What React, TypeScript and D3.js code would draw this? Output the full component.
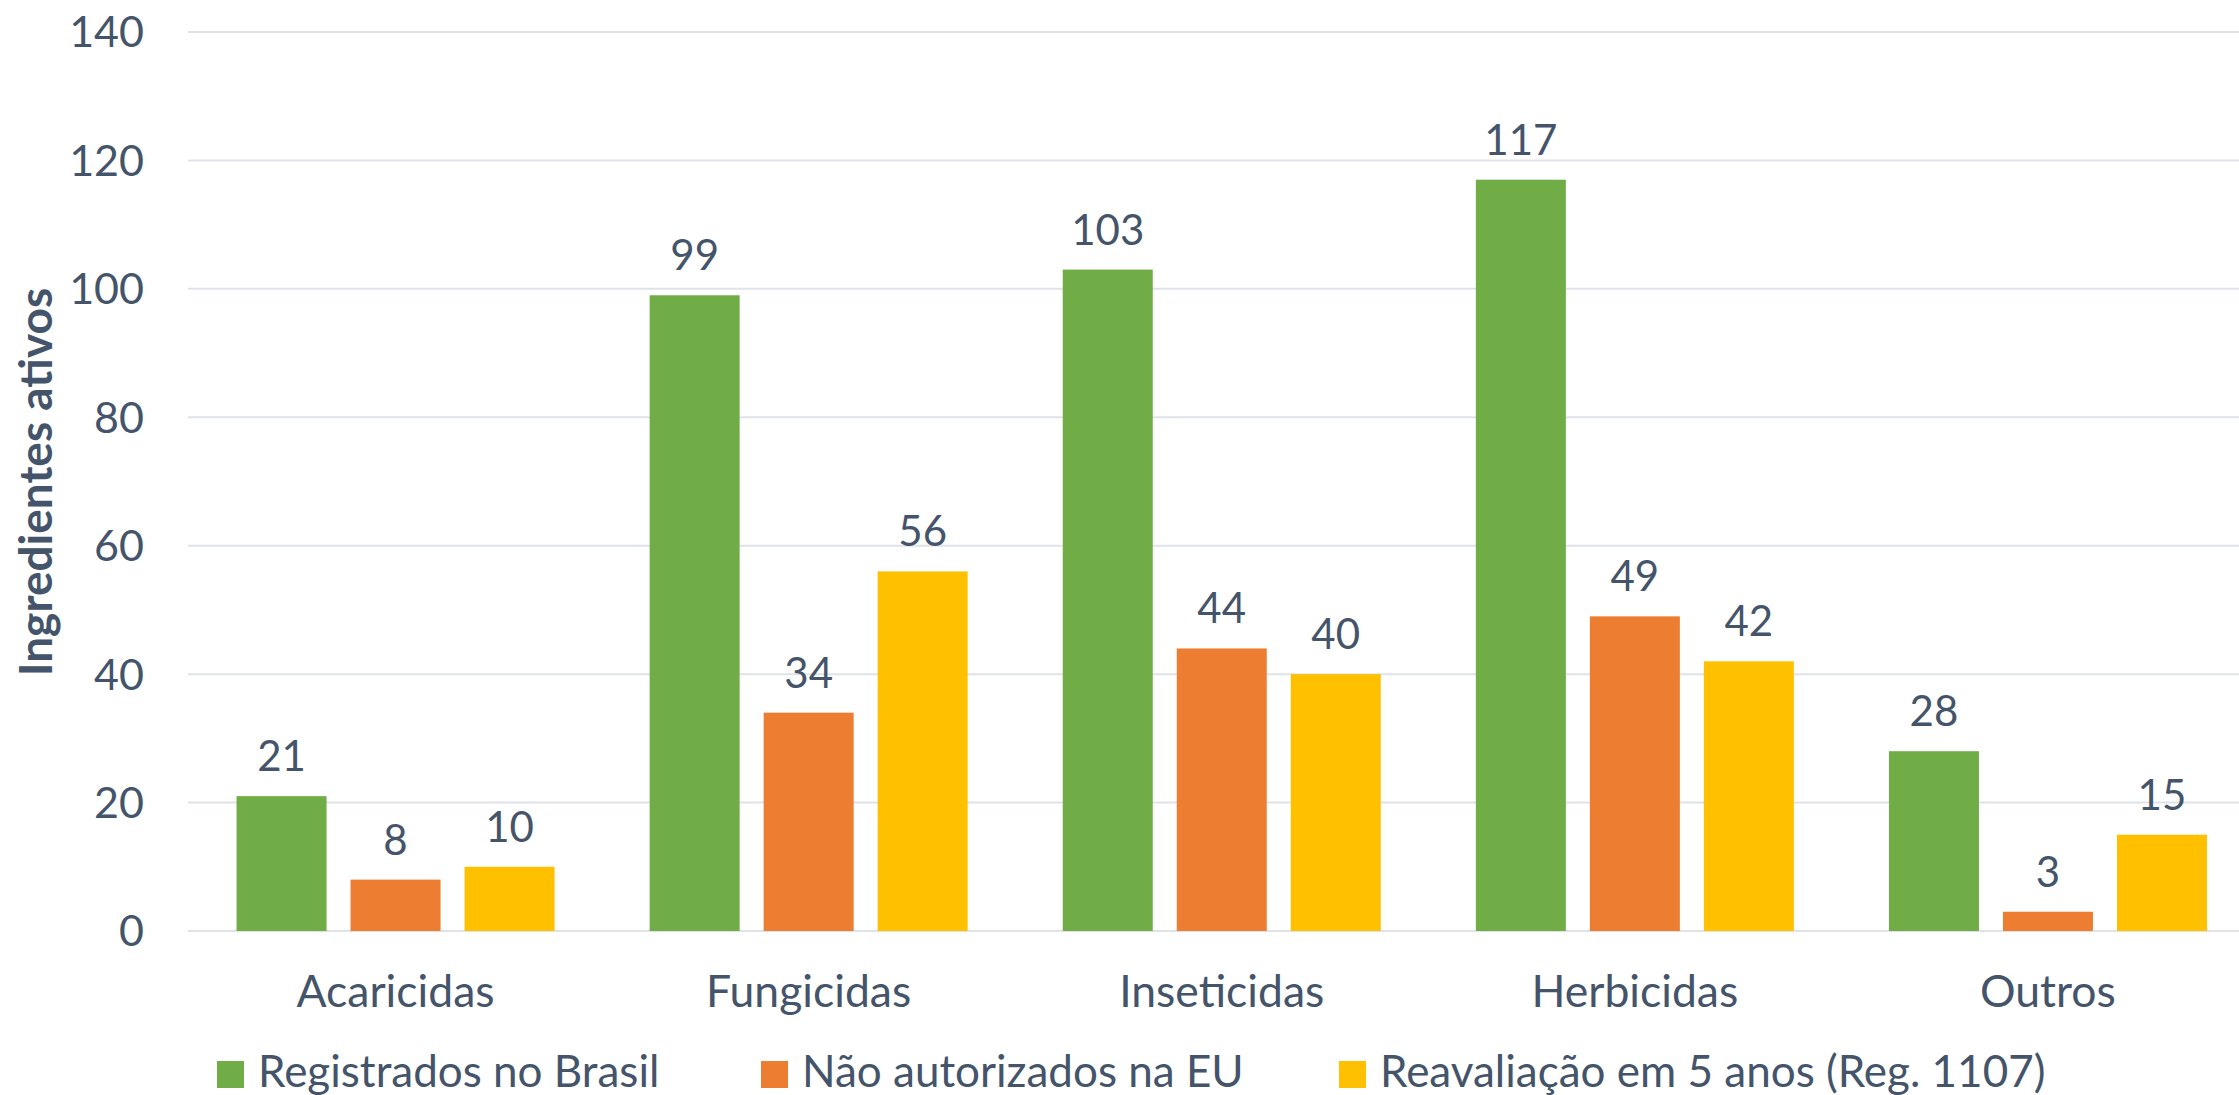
import React from "react";
import * as d3 from "d3";

const categories = ["Acaricidas", "Fungicidas", "Inseticidas", "Herbicidas", "Outros"];
const seriesNames = ["Registrados no Brasil", "Não autorizados na EU", "Reavaliação em 5 anos (Reg. 1107)"];
const registrados = [21, 99, 103, 117, 28];
const naoAutorizados = [8, 34, 44, 49, 3];
const reavaliacao = [10, 56, 40, 42, 15];
const yTicks = [0, 20, 40, 60, 80, 100, 120, 140];
const colors = ["#70AD47", "#ED7D31", "#FFC000"];

const W = 2239;
const H = 1095;
const TEXT = "#44546A";
const FONT = "Lato, 'Open Sans', sans-serif";

export default function App() {
  const seriesValues = [registrados, naoAutorizados, reavaliacao];
  const plotLeft = 189;
  const step = 413.1;
  const x0 = d3.scaleBand<string>().domain(categories).range([plotLeft, plotLeft + step * categories.length]).padding(0);
  const bw = x0.bandwidth();
  const groupW = 318;
  const x1 = d3
    .scaleBand<string>()
    .domain(seriesNames)
    .range([(bw - groupW) / 2, (bw + groupW) / 2])
    .paddingInner(24 / 114)
    .paddingOuter(0);
  const y = d3.scaleLinear().domain([0, 140]).range([931, 32]);

  const legendX = [217, 761, 1339];

  return (
    <div>
      <style>{`body{margin:0;background:#fff}`}</style>
      <svg width={W} height={H} style={{ display: "block" }} fontFamily={FONT}>
        <rect width={W} height={H} fill="#fff" />
        {yTicks.map((t) => (
          <g key={t}>
            <line x1={plotLeft - 1} x2={W} y1={y(t)} y2={y(t)} stroke="#DFE3E9" strokeWidth={2} />
            <text x={144} y={y(t)} dy="0.36em" textAnchor="end" fontSize={43} fill={TEXT}>
              {t}
            </text>
          </g>
        ))}
        {categories.map((c, ci) => (
          <g key={c} transform={`translate(${x0(c)},0)`}>
            {seriesNames.map((s, si) => {
              const v = seriesValues[si][ci];
              const bx = x1(s)!;
              return (
                <g key={s}>
                  <rect x={bx} y={y(v)} width={x1.bandwidth()} height={y(0) - y(v)} fill={colors[si]} />
                  <text
                    x={bx + x1.bandwidth() / 2}
                    y={y(v) - 25}
                    textAnchor="middle"
                    fontSize={42}
                    fill={TEXT}
                  >
                    {v}
                  </text>
                </g>
              );
            })}
            <text x={bw / 2} y={1007} textAnchor="middle" fontSize={44.5} fill={TEXT}>
              {c}
            </text>
          </g>
        ))}
        <text
          transform={`translate(52,482) rotate(-90)`}
          textAnchor="middle"
          fontSize={46}
          fontWeight="bold"
          fill={TEXT}
        >
          Ingredientes ativos
        </text>
        {seriesNames.map((s, si) => (
          <g key={s} transform={`translate(${legendX[si]},0)`}>
            <rect x={0} y={1061} width={27} height={27} fill={colors[si]} />
            <text x={41} y={1087} fontSize={44} fill={TEXT}>
              {s}
            </text>
          </g>
        ))}
      </svg>
    </div>
  );
}
